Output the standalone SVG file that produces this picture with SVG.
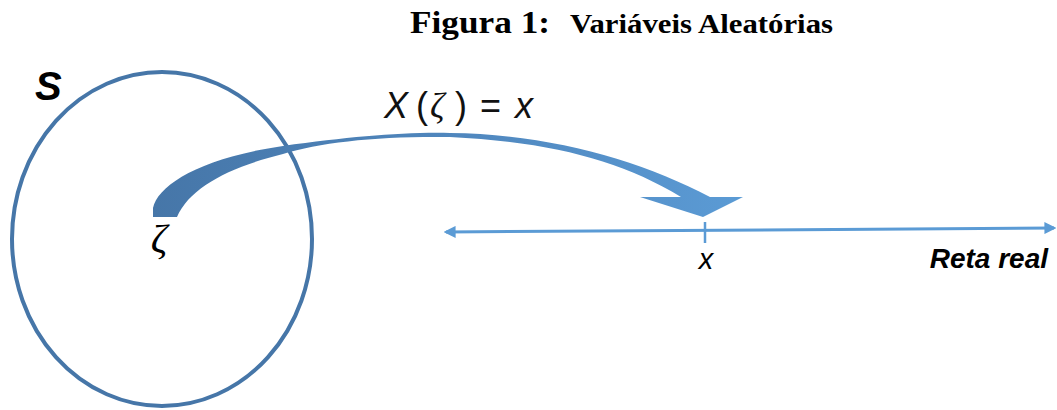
<svg xmlns="http://www.w3.org/2000/svg" width="1057" height="410" viewBox="0 0 1057 410">
<style>
.title{font-family:"Liberation Serif",serif;font-weight:bold;fill:#000}
.lbl{font-family:"Liberation Sans",sans-serif;fill:#000}
.math{font-family:"Liberation Sans",sans-serif;fill:#111;font-size:36px}
</style>
<defs>
<linearGradient id="g" x1="150" y1="0" x2="745" y2="0" gradientUnits="userSpaceOnUse">
<stop offset="0" stop-color="#4676a8"/>
<stop offset="0.5" stop-color="#4f86bd"/>
<stop offset="1" stop-color="#5b9bd5"/>
</linearGradient>
<marker id="ah" viewBox="0 0 10 10" refX="8" refY="5" markerWidth="4" markerHeight="4" orient="auto-start-reverse" markerUnits="strokeWidth">
<path d="M0,0 L10,5 L0,10 Z" fill="#5b9bd5"/>
</marker>
</defs>
<rect width="1057" height="410" fill="#fff"/>
<text class="title" x="410" y="33" font-size="32" textLength="140" lengthAdjust="spacingAndGlyphs">Figura 1:</text>
<text class="title" x="570" y="33" font-size="27" textLength="263" lengthAdjust="spacingAndGlyphs">Variáveis Aleatórias</text>
<g id="setS">
<ellipse cx="162" cy="239" rx="150" ry="167" fill="none" stroke="#4676a8" stroke-width="4"/>
<text class="lbl" x="35" y="100" font-size="40" font-weight="bold" font-style="italic">S</text>
</g>
<g id="zeta">
<text x="159" y="252" font-family="Liberation Serif,serif" font-style="italic" font-size="41" text-anchor="middle" fill="#000">ζ</text>
</g>
<g id="connectors">
<path id="mapArrow" d="M153,217 L153,208 C158,185 200,158 283,146 C350,137 400,132 450,133 C550,134 640,160 710,197 L743,197 L703,217 L640,197 L681,197 C620,160 550,142 450,137 C380,136 320,142 283,154 C230,167 190,187 177,217 Z" fill="url(#g)"/>
<line x1="446" y1="232" x2="1054" y2="228" stroke="#5b9bd5" stroke-width="3" marker-start="url(#ah)" marker-end="url(#ah)"/>
<line x1="705" y1="222" x2="705" y2="243" stroke="#5b9bd5" stroke-width="2.5"/>
</g>
<g id="mapLabel">
<text class="math" y="118"><tspan x="384" font-style="italic">X</tspan><tspan x="416">(</tspan><tspan x="430" font-family="Liberation Serif,serif" font-style="italic">ζ</tspan><tspan x="455">)</tspan><tspan x="480">=</tspan><tspan x="515" font-style="italic">x</tspan></text>
</g>
<g id="realLine">
<text class="lbl" x="706" y="269" font-size="29" font-style="italic" text-anchor="middle">x</text>
<text class="lbl" x="1048" y="268" font-size="28" font-weight="bold" font-style="italic" text-anchor="end">Reta real</text>
</g>
</svg>
